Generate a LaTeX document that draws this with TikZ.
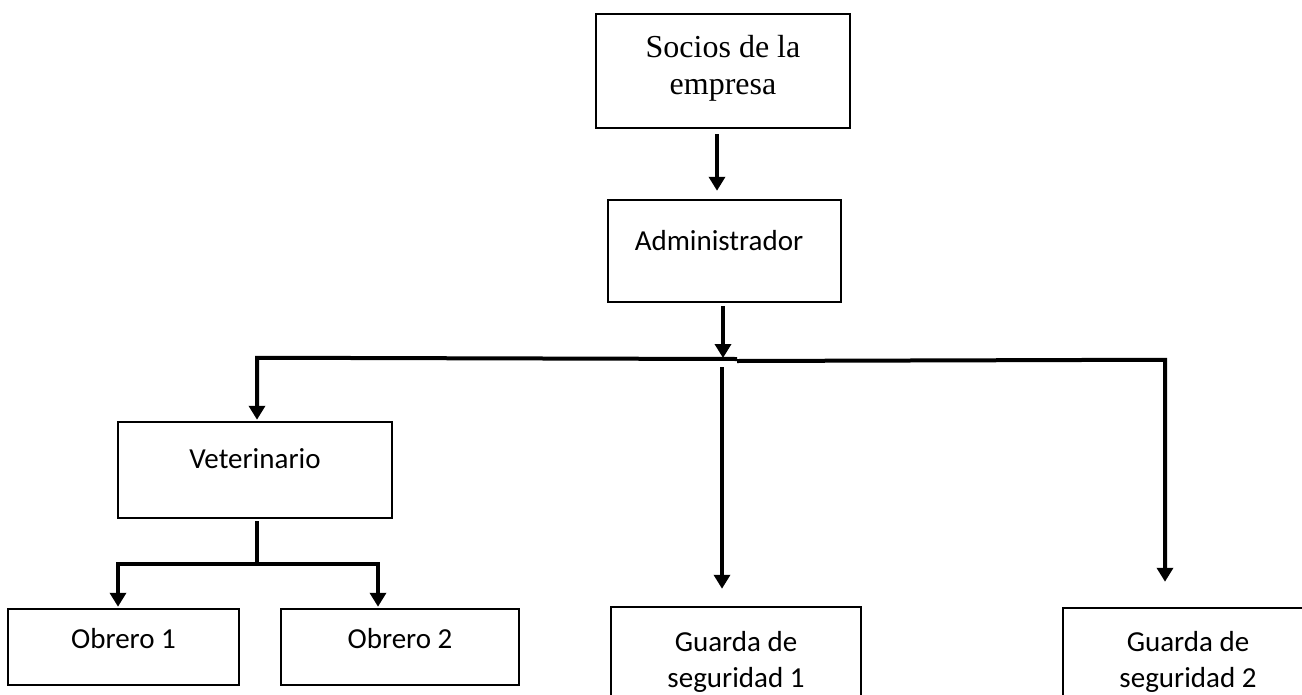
\documentclass[tikz,border=0pt]{standalone}
\usepackage{fontspec}
\setmainfont{Carlito}
\newfontfamily\serifface{Liberation Serif}
\usetikzlibrary{arrows.meta,calc}
\tikzset{
  box/.style={draw, line width=2.5pt, inner sep=0pt, anchor=center},
  lbl/.style={inner sep=0pt, align=center, font=\fontsize{29}{36}\selectfont},
  conn/.style={line width=4pt, line join=miter},
  arr/.style={-{Triangle[width=16pt,length=14pt]}},
  barr/.style={{Triangle[width=16pt,length=14pt]}-{Triangle[width=16pt,length=14pt]}}
}
\begin{document}
\begin{tikzpicture}[x=1pt,y=-1pt]
\useasboundingbox (0,0) rectangle (1302,694);
\fill[white] (0,0) rectangle (1302,694);
\clip (0,0) rectangle (1302,694);
% boxes
\node[box, minimum width=254pt, minimum height=114pt] (soc) at (723,71) {};
\node[box, minimum width=233pt, minimum height=102pt] (adm) at (724.5,251) {};
\node[box, minimum width=274pt, minimum height=96pt] (vet) at (255,470) {};
\node[box, minimum width=231pt, minimum height=76pt] (ob1) at (123.5,647) {};
\node[box, minimum width=238pt, minimum height=76pt] (ob2) at (400,647) {};
\node[box, minimum width=250pt, minimum height=113pt] (gs1) at (736,663.5) {};
\node[box, minimum width=250pt, minimum height=113pt] (gs2) at (1188,664.5) {};
% labels
\node[inner sep=0pt, align=center, anchor=north, font=\serifface\fontsize{32}{37}\selectfont] (soct) at (723,35) {Socios de la\\empresa};
\node[lbl, anchor=base] (admt) at (719,250) {Administrador};
\node[lbl, anchor=base] (vett) at (255,468) {Veterinario};
\node[lbl, anchor=base] (ob1t) at (123.5,648) {Obrero 1};
\node[lbl, anchor=base] (ob2t) at (400,648) {Obrero 2};
\node[lbl, anchor=north] (gs1t) at (736,631) {Guarda de\\seguridad 1};
\node[lbl, anchor=north] (gs2t) at (1188,631) {Guarda de\\seguridad 2};
% junction coordinates
\coordinate (hub) at (723,358);
\coordinate (hl) at ($(vet.north)+(2,-63)$);
\coordinate (step) at (737,359);
\coordinate (stepr) at (737,361);
\coordinate (hr) at ($(gs2.north)+(-23,-247)$);
\coordinate (g1top) at (722,367);
\coordinate (vj) at ($(vet.south)+(2,44)$);
\coordinate (oj1) at ($(ob1.north)+(-5.5,-44)$);
\coordinate (oj2) at ($(ob2.north)+(-22,-44)$);
% connectors
\draw[conn, arr] ($(soc.south)+(-6,5)$) -- ($(adm.north)+(-7.5,-8)$);
\draw[conn, arr] ($(adm.south)+(-1.5,3)$) -- (hub);
\draw[conn, arr] (step) -- (hl) -- ($(vet.north)+(2,-1)$);
\draw[conn, arr] (stepr) -- (hr) -- ($(gs2.north)+(-23,-25)$);
\draw[conn, arr] (g1top) -- ($(gs1.north)+(-14,-17)$);
\draw[conn] ($(vet.south)+(2,2)$) -- ($(vj)+(0,-1)$);
\draw[conn, barr] ($(ob1.north)+(-5.5,-1)$) -- (oj1) -- (oj2) -- ($(ob2.north)+(-22,-1)$);
\end{tikzpicture}
\end{document}
